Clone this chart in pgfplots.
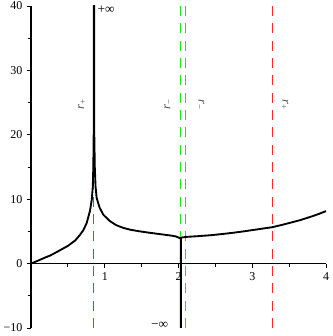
\documentclass[border=0pt]{standalone}
\usepackage{fontspec}
\setmainfont{Liberation Serif}
\usepackage{pgfplots}
\pgfplotsset{compat=1.18}
\definecolor{lred}{RGB}{255,40,40}
\definecolor{lgreen}{RGB}{30,230,30}
\definecolor{lblgray}{RGB}{80,80,80}

\begin{document}
\begin{tikzpicture}
\begin{axis}[
    name=ax,
    scale only axis,
    width=221.25pt, height=241.5pt,
    xmin=0, xmax=4, ymin=-10, ymax=40,
    axis x line=middle, axis y line=left,
    axis line style={-, line width=0.8pt},
    xtick={1,2,3,4}, minor xtick={0.5,1.5,2.5,3.5},
    ytick={-10,0,10,20,30,40}, minor ytick={-5,5,15,25,35},
    yticklabels={−10,0,10,20,30,40},
    xticklabels={1,2,3,4},
    tick align=outside,
    major tick length=3pt, minor tick length=2.5pt,
    tick style={black, line width=0.6pt},
    tick label style={font=\fontsize{9}{10}\selectfont},
    clip=true,
]
% vertical dashed lines
\addplot[lred, line width=0.8pt, dash pattern=on 7.5pt off 5.5pt] coordinates {(0.853,-10) (0.853,40)};
\addplot[lgreen, line width=0.8pt, dash pattern=on 7.5pt off 5.5pt] coordinates {(2.03,-10) (2.03,40)};
\addplot[lgreen!80!gray, line width=0.8pt, dash pattern=on 7.5pt off 5.5pt] coordinates {(2.09,-10) (2.09,40)};
\addplot[lred, line width=0.8pt, dash pattern=on 7.5pt off 5.5pt] coordinates {(3.27,-10) (3.27,40)};

% psi_- curve
\addplot[black, line width=1.4pt, line join=round] coordinates {
    (0,0) (0.1,0.48) (0.2,0.98) (0.26,1.25) (0.35,1.8) (0.5,2.75)
    (0.6,3.6) (0.66,4.4) (0.71,5.2) (0.755,6.3) (0.8,8.2) (0.825,10)
    (0.838,12) (0.845,15) (0.85,20) (0.853,45)
    (0.856,45) (0.858,20) (0.865,15) (0.875,12) (0.89,10.2) (0.93,8.7) (0.98,7.6)
    (1.07,6.6) (1.15,6.0) (1.25,5.55) (1.35,5.25) (1.48,5.0) (1.6,4.8)
    (1.7,4.65) (1.8,4.5) (1.9,4.35) (1.97,4.2) (2.0,4.05) (2.03,3.9)
    (2.03,-12) (2.032,-12) (2.032,3.95)
    (2.04,4.05) (2.11,4.15) (2.25,4.25) (2.43,4.4) (2.6,4.6) (2.75,4.8)
    (2.88,5.0) (3.0,5.2) (3.15,5.45) (3.27,5.65) (3.4,6.0) (3.5,6.3)
    (3.65,6.75) (3.8,7.3) (3.9,7.7) (4.0,8.15)
};

% labels
\node[lblgray, font=\fontsize{10}{11}\selectfont] at (axis cs:-0.2,35) {\textit{ψ}\textsubscript{−}};
\node[anchor=west, font=\fontsize{10}{11}\selectfont, inner sep=1pt] at (axis cs:0.88,39.4) {+∞};
\node[anchor=east, font=\fontsize{10}{11}\selectfont, inner sep=1pt] at (axis cs:1.88,-9.6) {−∞};
\node[lblgray, rotate=90, font=\fontsize{9.5}{10}\selectfont] at (axis cs:0.69,24.7) {\textit{r}\textsubscript{+}};
\node[lblgray, rotate=90, font=\fontsize{9.5}{10}\selectfont] at (axis cs:1.86,24.7) {\textit{r}\textsubscript{−}};
\node[lblgray, rotate=-90, font=\fontsize{9.5}{10}\selectfont] at (axis cs:2.30,24.7) {\textit{r}\textsubscript{−}};
\node[lblgray, rotate=-90, font=\fontsize{9.5}{10}\selectfont] at (axis cs:3.44,24.7) {\textit{r}\textsubscript{+}};
\end{axis}
\pgfresetboundingbox
\path[use as bounding box] ([shift={(-23.25pt,-6pt)}]ax.south west) rectangle ([shift={(4.5pt,4.5pt)}]ax.north east);
\end{tikzpicture}
\end{document}
